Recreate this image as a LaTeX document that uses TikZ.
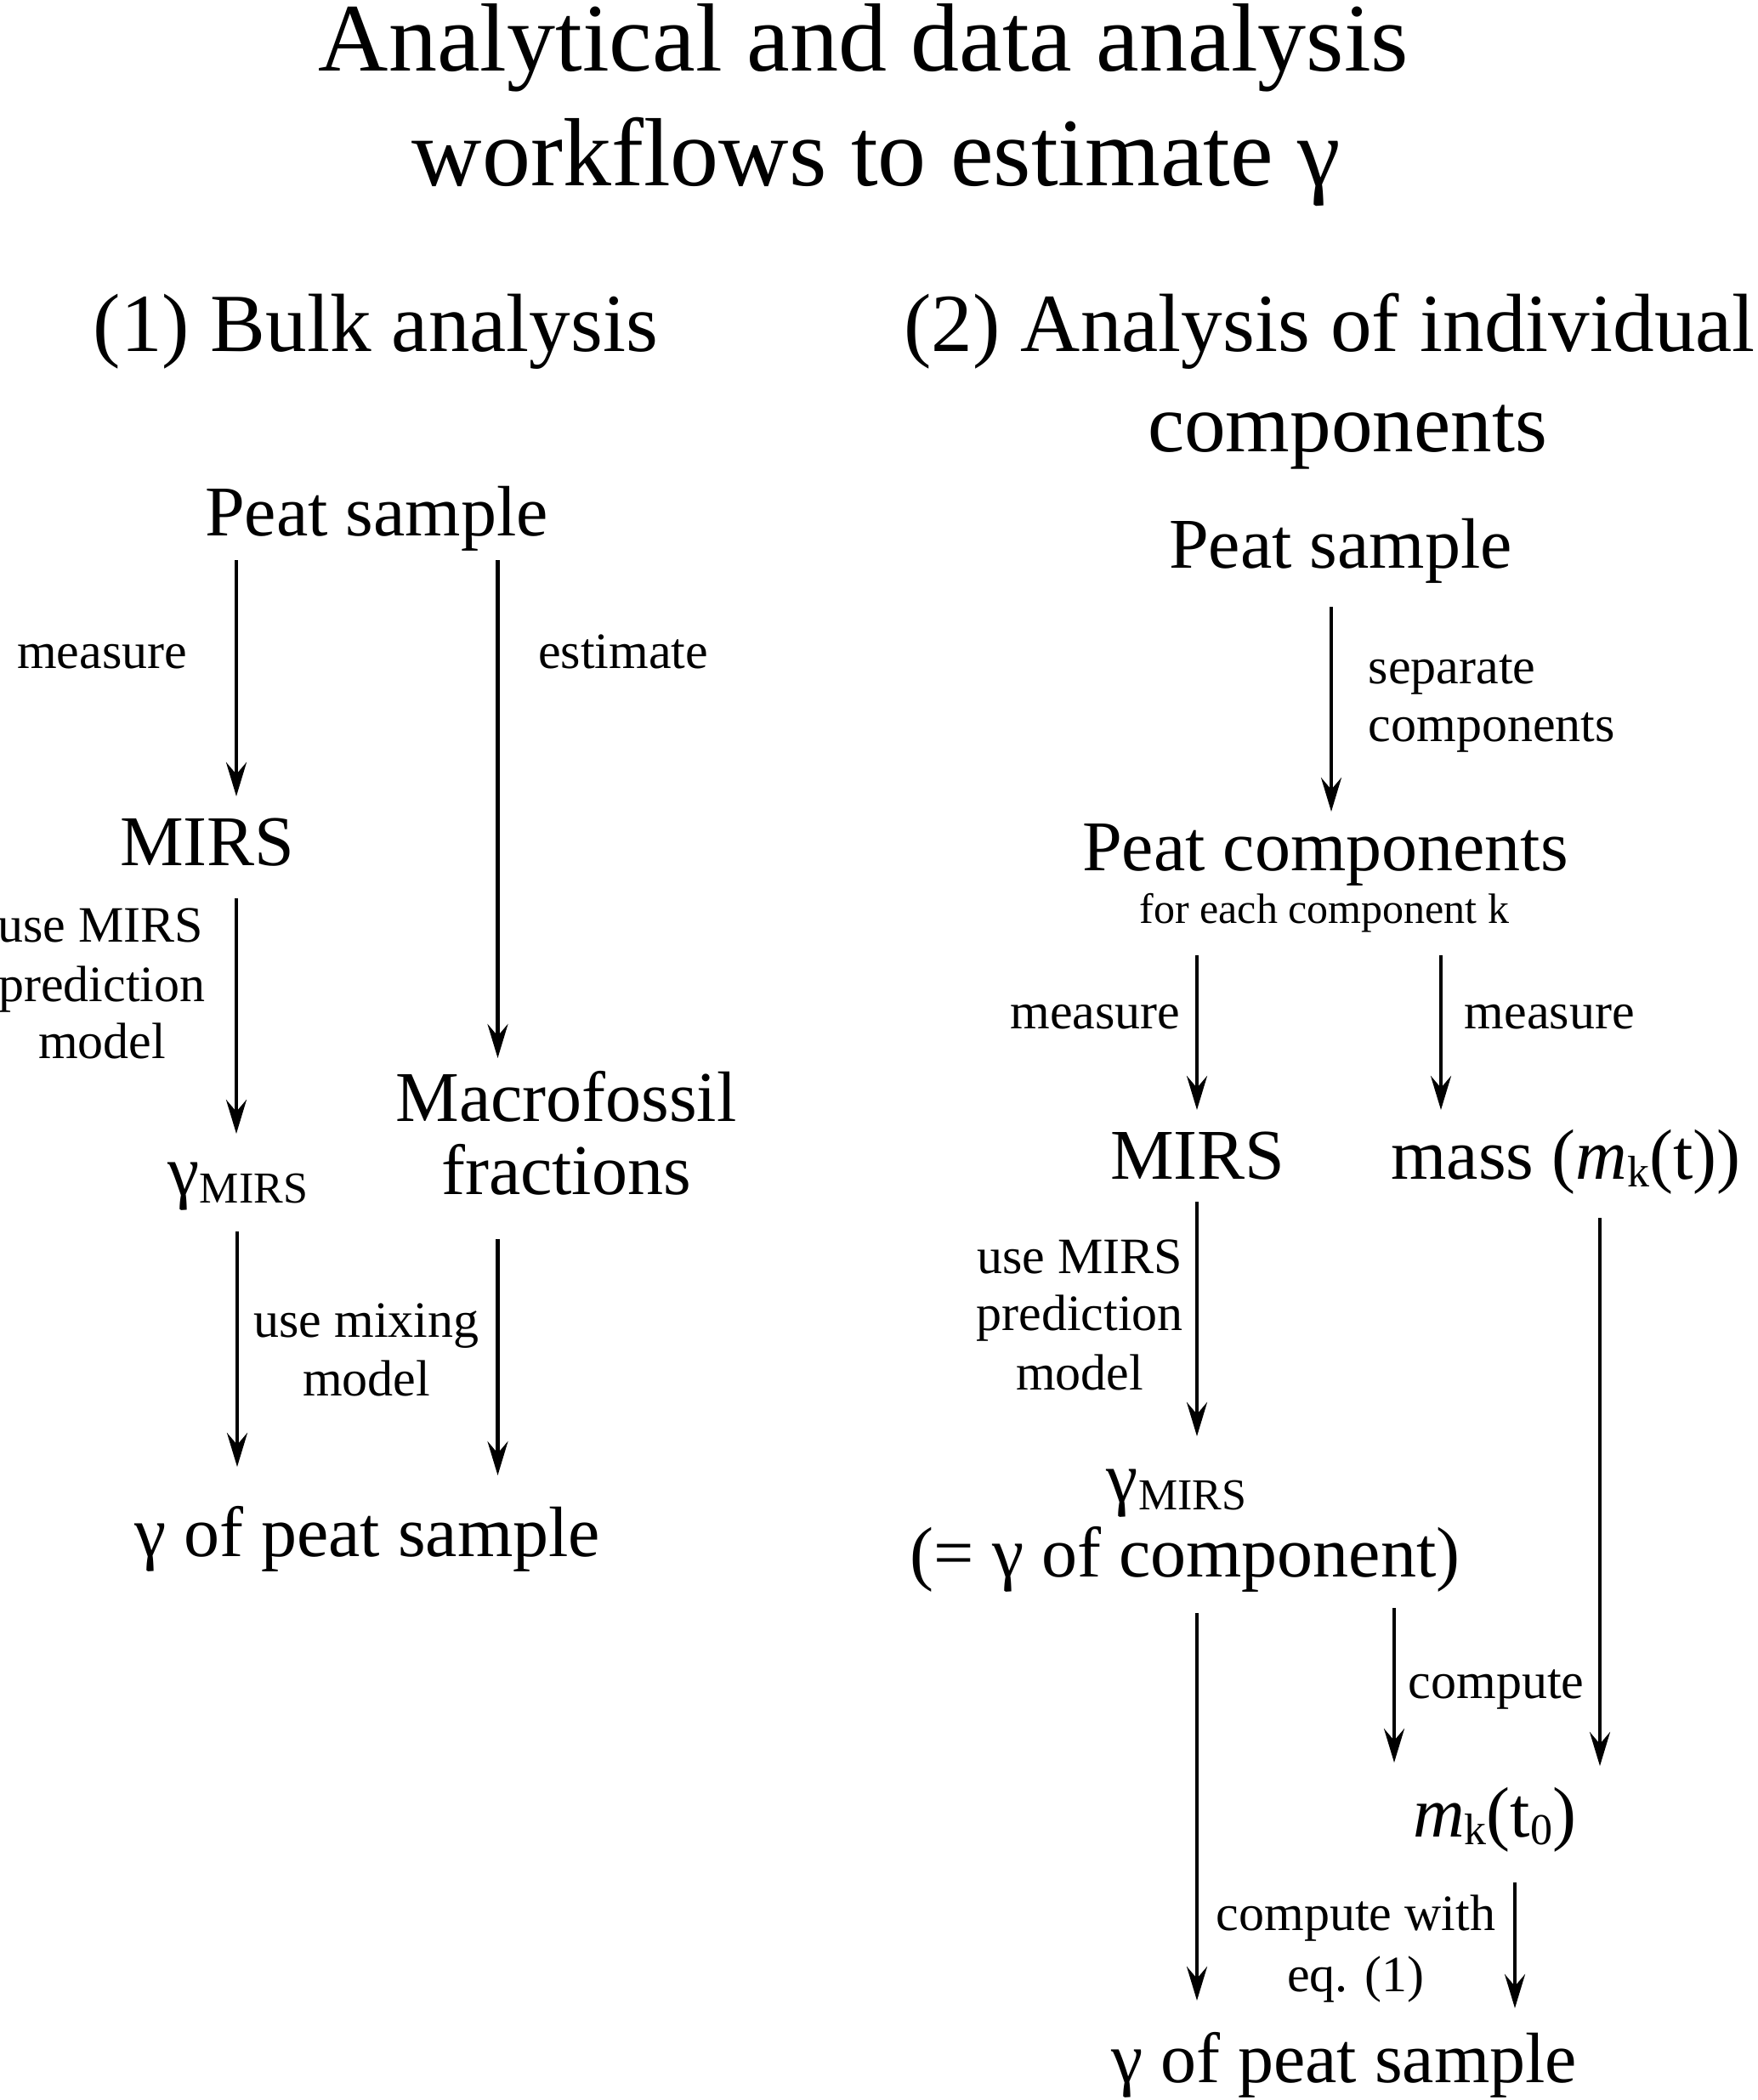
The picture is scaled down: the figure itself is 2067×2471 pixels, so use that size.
\documentclass[tikz,border=0pt]{standalone}
\usepackage{fontspec}
\setmainfont{Liberation Serif}
\usetikzlibrary{arrows.meta}
\newcommand\ttlfont{\fontsize{28.5}{34}\selectfont}
\newcommand\hdfont{\fontsize{24.3}{29}\selectfont}
\newcommand\ndfont{\fontsize{21}{25}\selectfont}
\newcommand\lbfont{\fontsize{15}{18}\selectfont}
\newcommand\smfont{\fontsize{12.5}{15}\selectfont}
\newcommand\mysub[1]{\raisebox{-2.4pt}{\fontsize{13}{15}\selectfont #1}}
\tikzset{
  txt/.style={inner sep=0pt, anchor=base},
  ttl/.style={txt, font=\ttlfont},
  hd/.style={txt, font=\hdfont},
  nd/.style={txt, font=\ndfont},
  lb/.style={txt, font=\lbfont},
  sm/.style={txt, font=\smfont},
  arr/.style={line width=1.15pt, -{Stealth[length=10pt,width=6pt,inset=3.5pt]}}
}
\begin{document}
\begin{tikzpicture}[x=0.25pt,y=-0.25pt]
\useasboundingbox[fill=white] (0,0) rectangle (2067,2471);
% title
\node[ttl] (t1) at (1016,84) {Analytical and data analysis};
\node[ttl] (t2) at (1031,219) {workflows to estimate γ};
% headings
\node[hd] (h1) at (442,413) {(1) Bulk analysis};
\node[hd] (h2) at (1564,413) {(2) Analysis of individual};
\node[hd] (h2b) at (1585,531) {components};
% left column
\node[nd] (psL) at (443,630) {Peat sample};
\node[lb] (measL) at (120,786) {measure};
\node[lb] (estL) at (733,786) {estimate};
\node[nd] (mirsL) at (244,1018) {MIRS};
\node[lb] (useL1) at (118,1108) {use MIRS};
\node[lb] (useL2) at (120,1178) {prediction};
\node[lb] (useL3) at (120,1245) {model};
\node[nd] (gamL) at (280,1406) {γ\mysub{MIRS}};
\node[nd] (macro1) at (666,1319) {Macrofossil};
\node[nd] (macro2) at (666,1405) {fractions};
\node[lb] (mixL1) at (431,1573) {use mixing};
\node[lb] (mixL2) at (431,1642) {model};
\node[nd] (finL) at (432,1831) {γ of peat sample};
% right column
\node[nd] (psR) at (1577,668) {Peat sample};
\node[lb, anchor=base west] (sepR1) at (1609,804) {separate};
\node[lb, anchor=base west] (sepR2) at (1609,872) {components};
\node[nd] (pcR) at (1559,1024) {Peat components};
\node[sm] (fecR) at (1558,1086) {for each component k};
\node[lb, anchor=base east] (measR1) at (1389,1210) {measure};
\node[lb, anchor=base west] (measR2) at (1722,1210) {measure};
\node[nd] (mirsR) at (1409,1387) {MIRS};
\node[nd] (massR) at (1842,1387) {mass (\textit{m}\mysub{k}(t))};
\node[lb] (useR1) at (1270,1498) {use MIRS};
\node[lb] (useR2) at (1270,1565) {prediction};
\node[lb] (useR3) at (1270,1635) {model};
\node[nd] (gamR) at (1384,1767) {γ\mysub{MIRS}};
\node[nd] (compR) at (1394,1855) {(= γ of component)};
\node[lb, anchor=base west] (computeR) at (1656,1998) {compute};
\node[nd] (mk0) at (1758,2161) {\textit{m}\mysub{k}(t\mysub{0})};
\node[lb] (cwR1) at (1595,2271) {compute with};
\node[lb] (cwR2) at (1595,2343) {eq. (1)};
\node[nd] (finR) at (1581,2450) {γ of peat sample};
% connector end points
\coordinate (a1s) at (278,659);   \coordinate (a1e) at (278,937);
\coordinate (a2s) at (585.5,659); \coordinate (a2e) at (585.5,1245);
\coordinate (a3s) at (278,1057);  \coordinate (a3e) at (278,1334);
\coordinate (a4s) at (279,1449);  \coordinate (a4e) at (279,1726);
\coordinate (a5s) at (585.5,1458);\coordinate (a5e) at (585.5,1736);
\coordinate (b1s) at (1566,714);  \coordinate (b1e) at (1566,955);
\coordinate (b2s) at (1408,1124); \coordinate (b2e) at (1408,1306);
\coordinate (b3s) at (1695,1124); \coordinate (b3e) at (1695,1306);
\coordinate (b4s) at (1408,1414); \coordinate (b4e) at (1408,1690);
\coordinate (b5s) at (1882,1433); \coordinate (b5e) at (1882,2078);
\coordinate (b6s) at (1408,1898); \coordinate (b6e) at (1408,2354);
\coordinate (b7s) at (1640,1892); \coordinate (b7e) at (1640,2074);
\coordinate (b8s) at (1782,2215); \coordinate (b8e) at (1782,2363);
\foreach \a in {a1,a2,a3,a4,a5,b1,b2,b3,b4,b5,b6,b7,b8}
  \draw[arr] (\a s) -- (\a e);
\end{tikzpicture}
\end{document}
